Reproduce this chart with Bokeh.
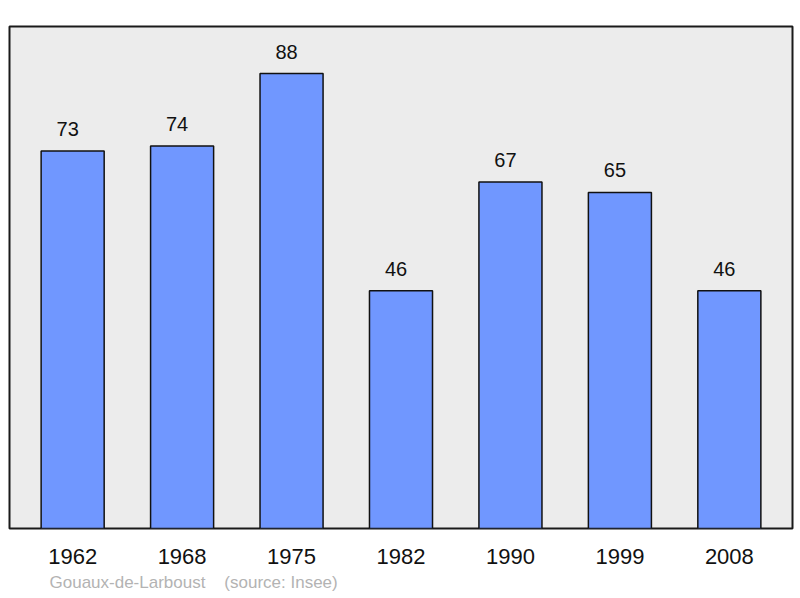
from bokeh.plotting import figure
from bokeh.models import Range1d, FactorRange, ColumnDataSource, LabelSet, Title
from bokeh.core.properties import value
from bokeh.embed import file_html
from bokeh.resources import INLINE

years = ["1962", "1968", "1975", "1982", "1990", "1999", "2008"]
population = [73, 74, 88, 46, 67, 65, 46]
commune = "Gouaux-de-Larboust"
source_note = "(source: Insee)"

FONT = "Liberation Sans"

src = ColumnDataSource(data=dict(year=years, pop=population, lbl=[str(v) for v in population]))

p = figure(
    width=798, height=596,
    x_range=FactorRange(factors=years, range_padding=0.022),
    y_range=Range1d(0, 97.1),
    output_backend="svg", toolbar_location=None,
    min_border_left=9, min_border_right=6, min_border_top=26, min_border_bottom=68,
)
p.background_fill_color = "#ececec"
p.border_fill_color = "white"
p.outline_line_color = "#1a1a1a"
p.outline_line_width = 2
p.grid.visible = False
p.yaxis.visible = False

p.vbar(x="year", top="pop", width=0.576, source=src,
       fill_color="#7097ff", line_color="#111111", line_width=1.5)

labels = LabelSet(x="year", y="pop", text="lbl", source=src,
                  text_align="center", text_baseline="alphabetic", y_offset=15, x_offset=-5,
                  text_font=value(FONT), text_font_size="20px", text_color="#111111")
p.add_layout(labels)

ax = p.xaxis[0]
ax.axis_line_color = None
ax.major_tick_line_color = None
ax.minor_tick_line_color = None
ax.major_label_text_font = FONT
ax.major_label_text_font_size = "22px"
ax.major_label_text_color = "#111111"
ax.major_label_standoff = 14

footer = Title(text=commune + "\u00a0\u00a0\u00a0\u00a0" + source_note, align="left", offset=40,
               text_font=FONT, text_font_size="17px", text_color="#b3b3b3",
               text_font_style="normal", standoff=9)
p.add_layout(footer, "below")

open("out.html", "w").write(file_html(p, INLINE))
